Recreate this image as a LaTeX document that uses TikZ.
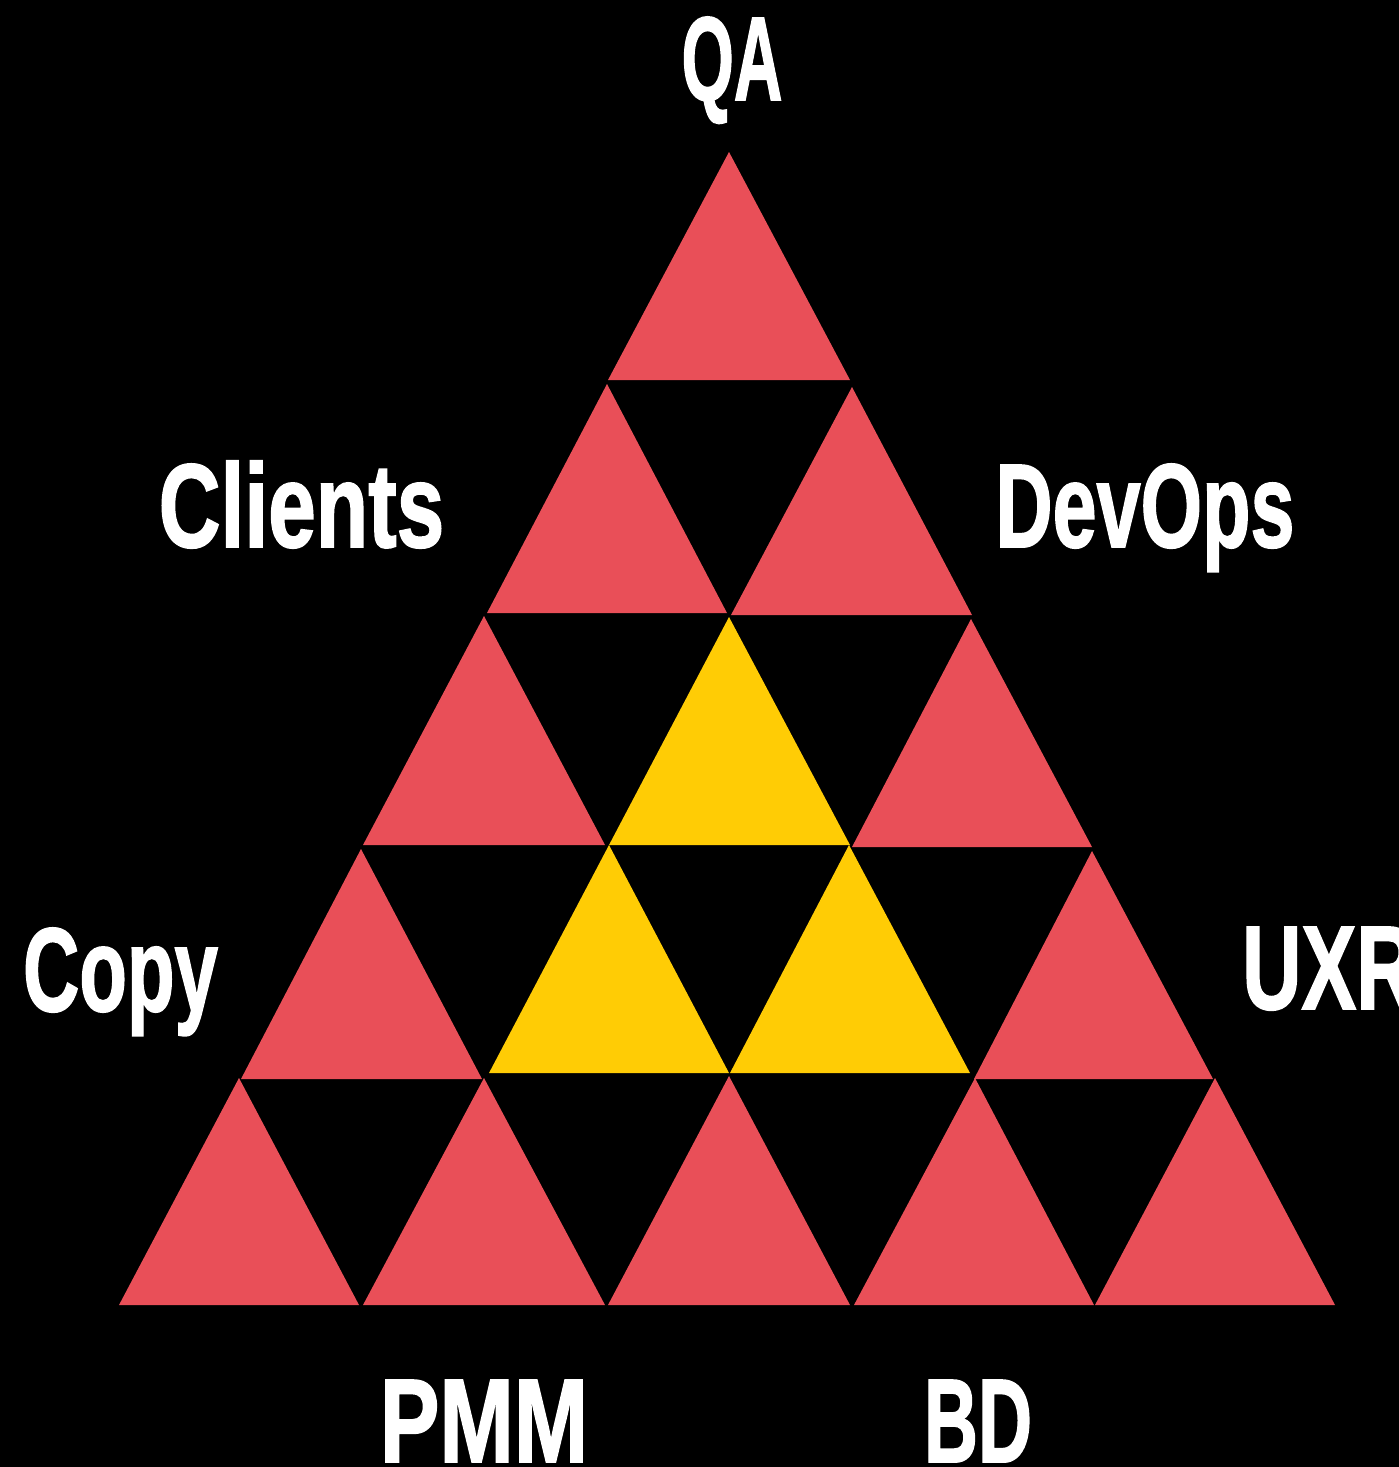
\documentclass[tikz,border=0pt]{standalone}
\usepackage{fontspec}
\setmainfont{Liberation Sans}
\newfontfamily\labfont[FakeBold=1.6]{Liberation Sans Bold}
\definecolor{tred}{HTML}{E94F58}
\definecolor{tyel}{HTML}{FFCC05}
\newcommand\mytri[6]{\fill[#6] (#1,#2) -- (#5,#3) -- (#4,#3) -- cycle;}
\tikzset{lab/.style={text=white,inner sep=0pt,font=\labfont\fontsize{119}{119}\selectfont}}
\begin{document}
\begin{tikzpicture}[x=1pt,y=-1pt]
\fill[black] (0,0) rectangle (1399,1467);
\useasboundingbox (0,0) rectangle (1399,1467);
% row 1
\mytri{729}{152}{380}{608}{850}{tred}
% row 2
\mytri{607}{384}{613}{487}{727}{tred}
\mytri{852}{387}{615}{731}{972}{tred}
% row 3
\mytri{484}{616}{845}{363}{605}{tred}
\mytri{729}{617}{845}{609}{850}{tyel}
\mytri{971}{619}{847}{852}{1092}{tred}
% row 4
\mytri{361}{849}{1079}{241}{482}{tred}
\mytri{609}{845}{1073}{489}{729}{tyel}
\mytri{849}{845}{1073}{730}{970}{tyel}
\mytri{1092}{851}{1079}{974}{1213}{tred}
% row 5
\mytri{239}{1078}{1305}{119}{359}{tred}
\mytri{484}{1078}{1305}{363}{605}{tred}
\mytri{729}{1076}{1305}{608}{850}{tred}
\mytri{975}{1078}{1305}{854}{1094}{tred}
\mytri{1215}{1078}{1305}{1095}{1335}{tred}
% labels
\node[lab,anchor=base] (qa) at (732,100) {\scalebox{0.565}[1]{QA}};
\node[lab,anchor=base] (clients) at (301.5,547) {\scalebox{0.72}[1]{Clients}};
\node[lab,anchor=base] (devops) at (1145,547) {\scalebox{0.665}[1]{DevOps}};
\node[lab,anchor=base] (copy) at (120.5,1011) {\scalebox{0.655}[1]{Copy}};
\node[lab,anchor=base west] (uxr) at (1242,1009) {\scalebox{0.69}[1]{UXR}};
\node[lab,anchor=base] (pmm) at (484,1462) {\scalebox{0.75}[1]{PMM}};
\node[lab,anchor=base] (bd) at (978,1462) {\scalebox{0.63}[1]{BD}};
\end{tikzpicture}
\end{document}
